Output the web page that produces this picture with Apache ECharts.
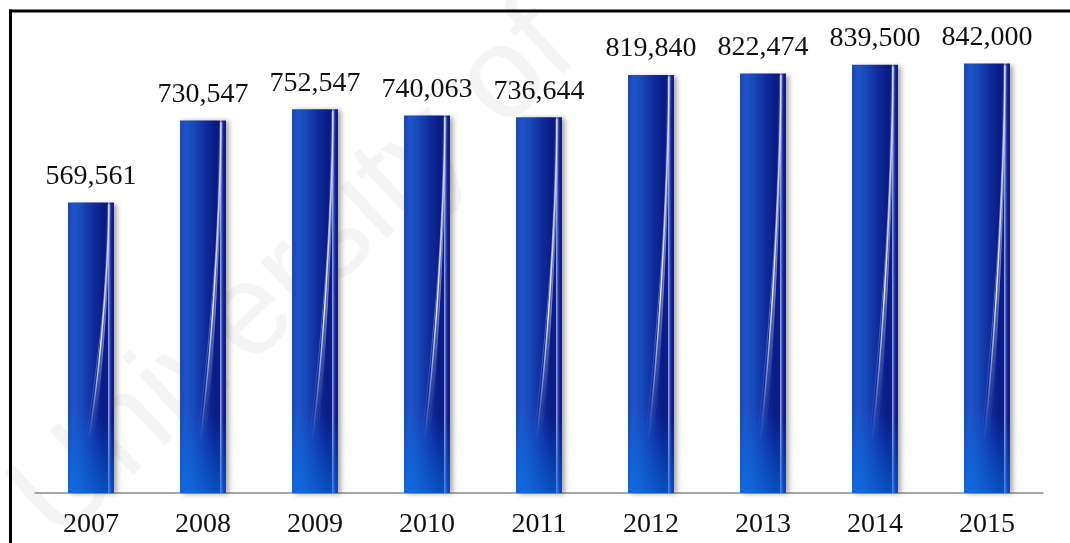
<!DOCTYPE html>
<html>
<head>
<meta charset="utf-8">
<script src="https://cdn.jsdelivr.net/npm/echarts@6/dist/echarts.min.js"></script>
<style>
  html, body { margin: 0; padding: 0; background: #ffffff; }
  #chart { width: 1070px; height: 543px; }
</style>
</head>
<body>
<div id="chart"></div>
<script>
// Yearly totals, one bar per year
const years = ['2007', '2008', '2009', '2010', '2011', '2012', '2013', '2014', '2015'];
const totals = [569561, 730547, 752547, 740063, 736644, 819840, 822474, 839500, 842000];

const SERIF = '"Liberation Serif", "Times New Roman", Times, serif';
const BAR_RATIO = 0.41;   // bar width as a share of one category band
const G = echarts.graphic;

// Glossy cylinder look: lighter left flank, navy right flank, thin highlight near the right edge
const barFill = new G.LinearGradient(0, 0, 1, 0, [
  { offset: 0.00, color: '#1744b2' },
  { offset: 0.12, color: '#1f53c5' },
  { offset: 0.30, color: '#1848b9' },
  { offset: 0.55, color: '#0f2d9d' },
  { offset: 0.78, color: '#0a1a84' },
  { offset: 0.86, color: '#0c1e8c' },
  { offset: 0.885, color: '#9aacee' },
  { offset: 0.91, color: '#3a4fb8' },
  { offset: 0.95, color: '#12208a' },
  { offset: 1.00, color: '#0d1a7a' }
]);

// Overlay drawn on top of each bar: brighter base glow and a soft curved light streak
function renderGloss(params, api) {
  const top = api.coord([api.value(0), api.value(1)]);
  const base = api.coord([api.value(0), 0]);
  const w = api.size([1, 0])[0] * BAR_RATIO;
  const x0 = top[0] - w / 2;
  const yTop = top[1];
  const yBase = base[1];
  const tailY = yBase - 50;
  const glow = new G.LinearGradient(x0, yBase, x0 + w, yBase - 70, [
    { offset: 0, color: 'rgba(12,112,228,0.8)' },
    { offset: 1, color: 'rgba(12,112,228,0)' }
  ], true);
  const strand = function (dx, alpha, lw) {
    const fade = new G.LinearGradient(0, yTop, 0, tailY, [
      { offset: 0, color: 'rgba(230,238,255,' + (alpha * 0.6) + ')' },
      { offset: 0.6, color: 'rgba(230,238,255,' + alpha + ')' },
      { offset: 1, color: 'rgba(230,238,255,0)' }
    ], true);
    return {
      type: 'bezierCurve',
      shape: {
        x1: x0 + w * 0.89, y1: yTop + 2,
        cpx1: x0 + w * 0.87, cpy1: yTop + (tailY - yTop) * 0.35,
        cpx2: x0 + w * (0.66 + dx), cpy2: tailY - (tailY - yTop) * 0.25,
        x2: x0 + w * (0.43 + dx), y2: tailY
      },
      style: { stroke: fade, lineWidth: lw, fill: null }
    };
  };
  return {
    type: 'group',
    children: [
      { type: 'rect', shape: { x: x0, y: yTop, width: w, height: yBase - yTop }, style: { fill: glow } },
      strand(0.04, 0.35, 3.5),
      strand(0, 0.95, 1.4),
      strand(-0.06, 0.45, 0.8),
      strand(0.1, 0.4, 0.7)
    ]
  };
}

const chart = echarts.init(document.getElementById('chart'), null, { renderer: 'canvas' });

chart.setOption({
  animation: false,
  backgroundColor: '#ffffff',
  grid: { left: 35, right: 27, top: 34, bottom: 50, containLabel: false },
  xAxis: {
    type: 'category',
    data: years,
    axisTick: { show: false },
    axisLine: { lineStyle: { color: '#8c8c8c', width: 1.5 } },
    axisLabel: { color: '#111111', fontSize: 28, fontFamily: SERIF, margin: 18 }
  },
  yAxis: {
    type: 'value',
    min: 0,
    max: 900000,
    show: false,
    splitLine: { show: false }
  },
  graphic: [
    {
      type: 'text',
      z: -10,
      x: 295, y: 275,
      rotation: Math.PI * 43 / 180,
      style: {
        text: 'University of',
        font: '130px "Liberation Sans", Arial, sans-serif',
        fill: '#f4f4f4',
        align: 'center',
        verticalAlign: 'middle'
      }
    },
    { type: 'line', z: 100, shape: { x1: 9, y1: 11, x2: 1070, y2: 11 }, style: { stroke: '#000', lineWidth: 3 } },
    { type: 'line', z: 100, shape: { x1: 10.5, y1: 9.5, x2: 10.5, y2: 543 }, style: { stroke: '#000', lineWidth: 3 } }
  ],
  series: [
    {
      type: 'bar',
      data: totals,
      barWidth: (BAR_RATIO * 100) + '%',
      itemStyle: {
        color: barFill,
        shadowColor: 'rgba(0,0,0,0.35)',
        shadowBlur: 5,
        shadowOffsetX: 3,
        shadowOffsetY: 1
      },
      label: {
        show: true,
        position: 'top',
        distance: 12,
        color: '#111111',
        fontSize: 28,
        fontFamily: SERIF,
        formatter: function (p) { return p.value.toLocaleString('en-US'); }
      },
      z: 2
    },
    {
      type: 'custom',
      data: totals.map(function (v, i) { return [i, v]; }),
      renderItem: renderGloss,
      encode: { x: 0, y: 1 },
      silent: true,
      z: 3
    }
  ]
});
</script>
</body>
</html>
